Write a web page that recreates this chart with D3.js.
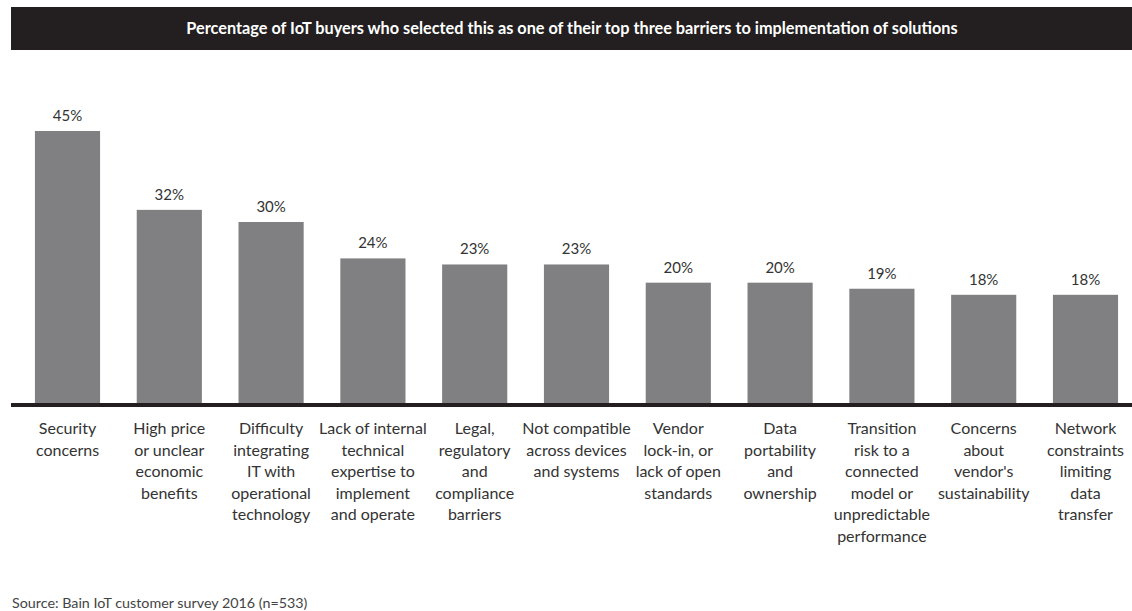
<!DOCTYPE html>
<html>
<head>
<meta charset="utf-8">
<script src="https://cdn.jsdelivr.net/npm/d3@7"></script>
<style>
  body { margin: 0; background: #fff; }
  svg text { font-family: "Lato", "DejaVu Sans", sans-serif; }
</style>
</head>
<body>
<div id="chart"></div>
<script>
// chart values
var categories = [
  ["Security", "concerns"],
  ["High price", "or unclear", "economic", "benefits"],
  ["Difficulty", "integrating", "IT with", "operational", "technology"],
  ["Lack of internal", "technical", "expertise to", "implement", "and operate"],
  ["Legal,", "regulatory", "and", "compliance", "barriers"],
  ["Not compatible", "across devices", "and systems"],
  ["Vendor", "lock-in, or", "lack of open", "standards"],
  ["Data", "portability", "and", "ownership"],
  ["Transition", "risk to a", "connected", "model or", "unpredictable", "performance"],
  ["Concerns", "about", "vendor's", "sustainability"],
  ["Network", "constraints", "limiting", "data", "transfer"]
];
var values = [45, 32, 30, 24, 23, 23, 20, 20, 19, 18, 18];
var titleText = "Percentage of IoT buyers who selected this as one of their top three barriers to implementation of solutions";
var sourceText = "Source: Bain IoT customer survey 2016 (n=533)";

var width = 1132, height = 611;
var svg = d3.select("#chart").append("svg")
    .attr("width", width)
    .attr("height", height);

// title bar
svg.append("rect")
    .attr("x", 11).attr("y", 7)
    .attr("width", width - 11).attr("height", 43)
    .attr("fill", "#231f20");
svg.append("text")
    .attr("x", 572).attr("y", 34)
    .attr("text-anchor", "middle")
    .attr("fill", "#fff")
    .attr("font-size", 16.3)
    .attr("font-weight", "bold")
    .text(titleText);

var idx = d3.range(values.length);
var x = d3.scaleBand()
    .domain(idx)
    .range([16.6, 1136.4])
    .paddingInner(0.36)
    .paddingOuter(0.18);
var y = d3.scaleLinear()
    .domain([0, 45])
    .range([404, 131]);

var bars = svg.append("g").selectAll(".bar")
    .data(idx)
    .enter().append("g").attr("class", "bar");

bars.append("rect")
    .attr("x", function(i){ return x(i); })
    .attr("y", function(i){ return y(values[i]); })
    .attr("width", x.bandwidth())
    .attr("height", function(i){ return y(0) - y(values[i]); })
    .attr("fill", "#808083");

bars.append("text")
    .attr("x", function(i){ return x(i) + x.bandwidth() / 2; })
    .attr("y", function(i){ return y(values[i]) - 10; })
    .attr("text-anchor", "middle")
    .attr("fill", "#333")
    .attr("font-size", 15)
    .text(function(i){ return values[i] + "%"; });

// baseline
svg.append("line")
    .attr("x1", 11).attr("x2", width)
    .attr("y1", y(0) + 1).attr("y2", y(0) + 1)
    .attr("stroke", "#231f20")
    .attr("stroke-width", 4);

// category labels
bars.each(function(i){
  var t = d3.select(this).append("text")
      .attr("text-anchor", "middle")
      .attr("fill", "#333")
      .attr("font-size", 16);
  categories[i].forEach(function(line, k){
    t.append("tspan")
      .attr("x", x(i) + x.bandwidth() / 2)
      .attr("y", 434 + k * 21.5)
      .text(line);
  });
});

svg.append("text")
    .attr("x", 12).attr("y", 608)
    .attr("fill", "#444")
    .attr("font-size", 14.3)
    .text(sourceText);
</script>
</body>
</html>
